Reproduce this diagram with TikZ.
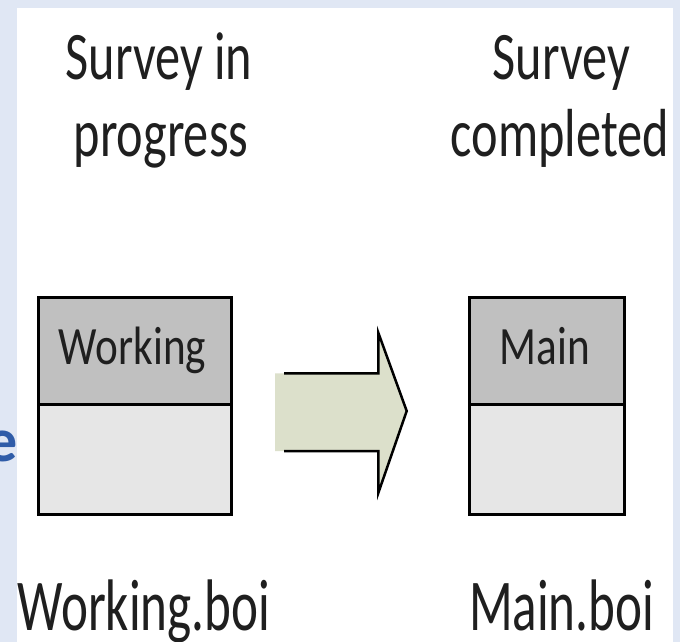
\documentclass[tikz,border=0pt]{standalone}
\usepackage{fontspec}
\setmainfont{Carlito}
\usepackage{graphicx}
\definecolor{bgblue}{HTML}{E0E7F4}
\definecolor{topgray}{HTML}{C0C0C0}
\definecolor{botgray}{HTML}{E6E6E6}
\definecolor{arrowfill}{HTML}{DCE0CB}
\definecolor{eblue}{HTML}{2F5CA8}
\newcommand{\titletext}[1]{\scalebox{0.74}[1]{\fontsize{68}{68}\selectfont #1}}
\newcommand{\filetext}[1]{\scalebox{0.70}[1]{\fontsize{73}{73}\selectfont #1}}
\newcommand{\boxtext}[1]{\scalebox{0.80}[1]{\fontsize{54}{54}\selectfont #1}}
\begin{document}
\begin{tikzpicture}[x=1pt,y=-1pt,
  txt/.style={inner sep=0pt,anchor=base,text=black!88},
  boxpart/.style={draw=black,line width=3pt,inner sep=0pt,anchor=north west},
  arrowline/.style={draw=black,line width=2.5pt,line join=miter}]
\useasboundingbox (0,0) rectangle (680,642);
\fill[bgblue] (0,0) rectangle (680,642);
\fill[white] (17,8.5) rectangle (673,642);
% blue letter at left edge
\node[inner sep=0pt,anchor=base east,text=eblue,font={\fontsize{62}{62}\selectfont\bfseries}] (e) at (17.5,461.5) {e};
% titles
\node[txt] (t1a) at (159,79) {\titletext{Survey in}};
\node[txt] (t1b) at (161,156.5) {\titletext{progress}};
\node[txt] (t2a) at (561.5,79) {\titletext{Survey}};
\node[txt] (t2b) at (560,156.5) {\titletext{completed}};
% boxes
\node[boxpart,fill=botgray,minimum width=192.7pt,minimum height=110pt] (wbot) at (37.3,402.7) {};
\node[boxpart,fill=topgray,minimum width=192.7pt,minimum height=107pt] (wtop) at (37.3,295.7) {};
\node[boxpart,fill=botgray,minimum width=155pt,minimum height=110pt] (mbot) at (468.3,402.7) {};
\node[boxpart,fill=topgray,minimum width=155pt,minimum height=107pt] (mtop) at (468.3,295.7) {};
\node[txt] (wlab) at (132.5,364.5) {\boxtext{Working}};
\node[txt] (mlab) at (545,364.5) {\boxtext{Main}};
% arrow
\coordinate (a1) at (275,373.3);
\coordinate (a2) at (378.3,373.3);
\coordinate (a3) at (378.3,332.7);
\coordinate (a4) at (406.7,411);
\coordinate (a5) at (378.3,493);
\coordinate (a6) at (378.3,451);
\coordinate (a7) at (275,451);
\fill[arrowfill] (a1) -- (a2) -- (a3) -- (a4) -- (a5) -- (a6) -- (a7) -- cycle;
\draw[arrowline] ([xshift=9pt]a1) -- (a2) -- (a3) -- (a4) -- (a5) -- (a6) -- ([xshift=9pt]a7);
% file names
\node[txt] (f1) at (144,630) {\filetext{Working.boi}};
\node[txt] (f2) at (561.7,630) {\filetext{Main.boi}};
\end{tikzpicture}
\end{document}
